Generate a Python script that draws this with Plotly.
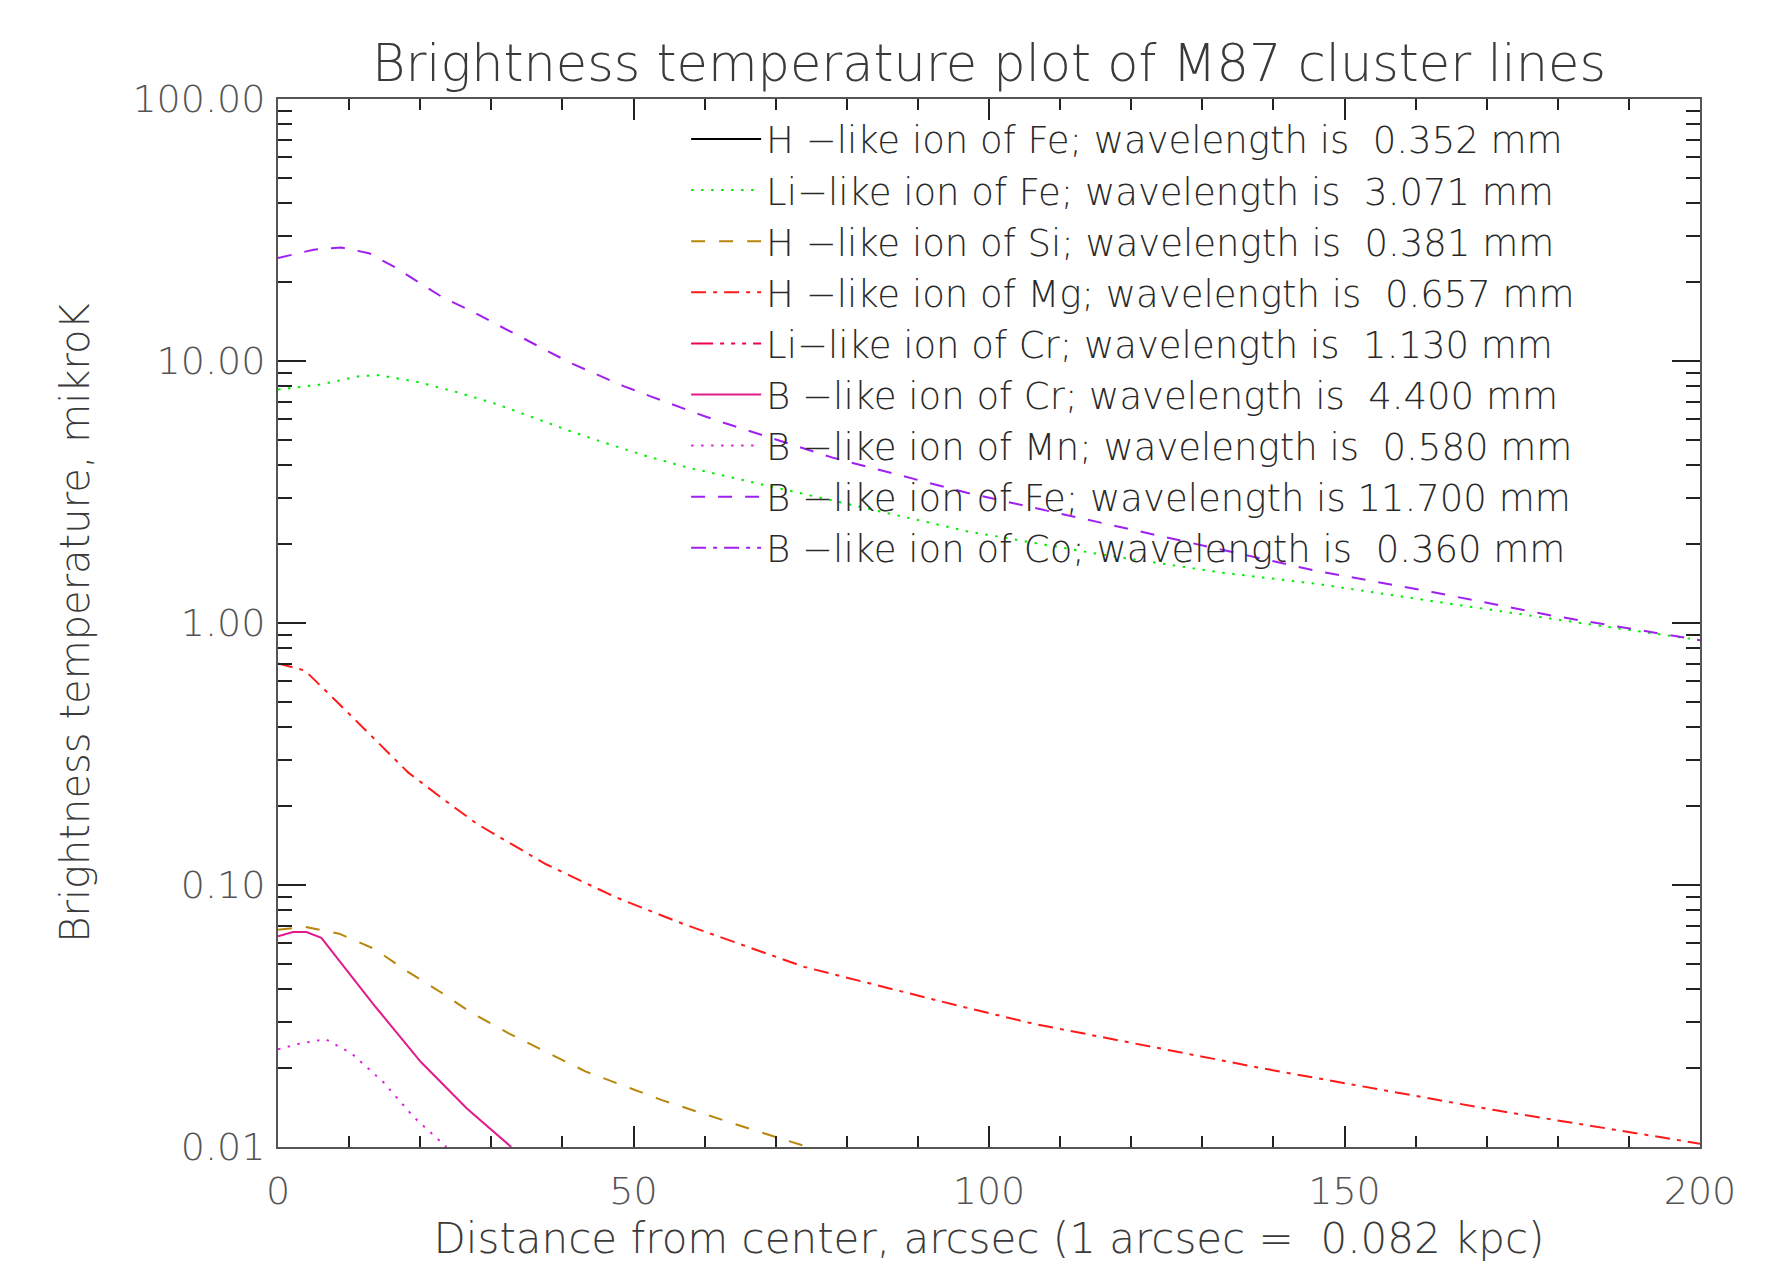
import plotly.graph_objects as go

# ---------------- data ----------------
names = [
    "H \u2212like ion of Fe; wavelength is  0.352 mm",
    "Li\u2212like ion of Fe; wavelength is  3.071 mm",
    "H \u2212like ion of Si; wavelength is  0.381 mm",
    "H \u2212like ion of Mg; wavelength is  0.657 mm",
    "Li\u2212like ion of Cr; wavelength is  1.130 mm",
    "B \u2212like ion of Cr; wavelength is  4.400 mm",
    "B \u2212like ion of Mn; wavelength is  0.580 mm",
    "B \u2212like ion of Fe; wavelength is 11.700 mm",
    "B \u2212like ion of Co; wavelength is  0.360 mm",
]

# H-like Fe, Li-like Cr, B-like Co stay below 0.01 (not visible in the plot)
x_hfe, y_hfe = [0, 200], [None, None]
x_lcr, y_lcr = [0, 200], [None, None]
x_bco, y_bco = [0, 200], [None, None]

x_lfe = [0, 6.0, 11.4, 14.2, 19.8, 25.2, 30.8, 36.0, 41.1, 46.7, 51.9, 57.5, 62.9,
         68.3, 78.1, 96.9, 115.6, 132.5, 146.1, 162.5, 178.9, 200]
y_lfe = [7.78, 8.13, 8.75, 8.83, 8.30, 7.60, 6.84, 6.07, 5.40, 4.80, 4.33, 3.93, 3.64,
         3.35, 2.92, 2.24, 1.83, 1.56, 1.41, 1.21, 1.04, 0.86]

x_hsi = [0, 3.8, 8.6, 13.5, 18.3, 23.2, 27.0, 32.5, 43.3, 54.0, 64.8, 74.5]
y_hsi = [0.0675, 0.0692, 0.0652, 0.0571, 0.0466, 0.0385, 0.0328, 0.0271, 0.0194,
         0.0151, 0.0121, 0.0100]

x_hmg = [0, 3.8, 8.6, 13.5, 18.3, 23.2, 28.0, 37.7, 47.4, 57.0, 66.7, 74.0, 95.5,
         106.1, 138.7, 171.3, 200]
y_hmg = [0.701, 0.658, 0.491, 0.361, 0.269, 0.213, 0.171, 0.120, 0.090, 0.071,
         0.0571, 0.0487, 0.0347, 0.0296, 0.0199, 0.0138, 0.0103]

x_bcr = [0, 2.1, 4.0, 6.1, 13.7, 20.1, 26.6, 32.8]
y_bcr = [0.0637, 0.0661, 0.0661, 0.0628, 0.0343, 0.0211, 0.0140, 0.0100]

x_bmn = [0, 3.0, 6.7, 10.4, 14.8, 19.1, 23.7]
y_bmn = [0.0236, 0.0248, 0.0258, 0.0227, 0.0177, 0.0130, 0.0100]

x_bfe = [0, 5.0, 8.9, 12.8, 16.3, 19.8, 23.3, 26.8, 30.4, 34.0, 37.6, 41.1, 44.9,
         48.6, 52.4, 56.1, 60.0, 63.9, 67.7, 78.1, 96.9, 115.6, 132.5, 146.1,
         162.5, 178.9, 200]
y_bfe = [24.7, 26.6, 27.1, 25.8, 22.9, 19.9, 17.4, 15.7, 13.97, 12.4, 11.0, 9.84,
         8.87, 8.02, 7.33, 6.72, 6.15, 5.67, 5.25, 4.27, 3.14, 2.42, 1.91, 1.58,
         1.31, 1.07, 0.86]

y_tickvals = [0.01, 0.1, 1, 10, 100]
y_ticktext = ["0.01", "0.10", "1.00", "10.00", "100.00"]
x_tickvals = [0, 50, 100, 150, 200]
x_ticktext = ["0", "50", "100", "150", "200"]

# ---------------- styles ----------------
colors = ["#000000", "#00ee00", "#b8860b", "#ff1a1a", "#ee0055",
          "#e31a8c", "#e020e0", "#a020f0", "#a020f0"]
dashes = ["solid", "2.5px,7.5px", "14px,14px", "15px,7px,4px,7px",
          "22px,7px,4px,7px,4px,7px,4px,7px", "solid", "2.5px,7.5px",
          "14px,13px", "15px,7px,4px,7px"]
xs = [x_hfe, x_lfe, x_hsi, x_hmg, x_lcr, x_bcr, x_bmn, x_bfe, x_bco]
ys = [y_hfe, y_lfe, y_hsi, y_hmg, y_lcr, y_bcr, y_bmn, y_bfe, y_bco]

FONT = "DejaVu Sans ExtraLight, DejaVu Sans"

fig = go.Figure()
for n, x, y, c, d in zip(names, xs, ys, colors, dashes):
    fig.add_trace(go.Scatter(x=x, y=y, mode="lines", name=n, showlegend=True,
                             line=dict(color=c, width=2, dash=d)))

y_minor = [m * 10 ** e for e in range(-2, 2) for m in range(2, 10)]

# page body has an 8px margin: figure is 1761x1258 placed at (8, 8)
fig.update_layout(
    width=1761, height=1258, autosize=False,
    margin=dict(l=270, r=69, t=91, b=105),
    paper_bgcolor="white", plot_bgcolor="white",
    title=dict(text="Brightness temperature plot of M87 cluster lines",
               x=0.5, xref="paper", xanchor="center",
               y=1 - 55 / 1258, yref="container", yanchor="middle",
               font=dict(family=FONT, size=51, color="#3a3a3a", weight=200)),
    legend=dict(x=0.287, y=0.991, xanchor="left", yanchor="top",
                bgcolor="rgba(0,0,0,0)", borderwidth=0,
                font=dict(family=FONT, size=37, color="#2a2a2a", weight=200),
                itemwidth=70, tracegroupgap=0),
    xaxis=dict(range=[0, 200], showgrid=False, zeroline=False,
               showline=True, linecolor="#555555", linewidth=2, mirror="ticks",
               ticks="inside", ticklen=21, tickwidth=1.5, tickcolor="#222222",
               tickmode="array", tickvals=x_tickvals, ticktext=x_ticktext,
               ticklabelstandoff=9,
               tickfont=dict(family=FONT, size=38, color="#555555", weight=200),
               minor=dict(ticks="inside", ticklen=11, tickwidth=1.5,
                          tickcolor="#222222", dtick=10, tick0=0),
               title=dict(text="Distance from center, arcsec (1 arcsec =  0.082 kpc)",
                          standoff=12,
                          font=dict(family=FONT, size=42, color="#3a3a3a", weight=200))),
    yaxis=dict(type="log", range=[-2, 2], showgrid=False, zeroline=False,
               showline=True, linecolor="#555555", linewidth=2, mirror="ticks",
               ticks="inside", ticklen=28, tickwidth=1.5, tickcolor="#222222",
               tickmode="array", tickvals=y_tickvals, ticktext=y_ticktext,
               ticklabelstandoff=3,
               tickfont=dict(family=FONT, size=38, color="#555555", weight=200),
               minor=dict(ticks="inside", ticklen=14, tickwidth=1.5,
                          tickcolor="#222222", tickmode="array", tickvals=y_minor),
               title=dict(text="Brightness temperature, mikroK", standoff=30,
                          font=dict(family=FONT, size=40, color="#3a3a3a", weight=200))),
    showlegend=True,
)

fig.write_html("out.html")
